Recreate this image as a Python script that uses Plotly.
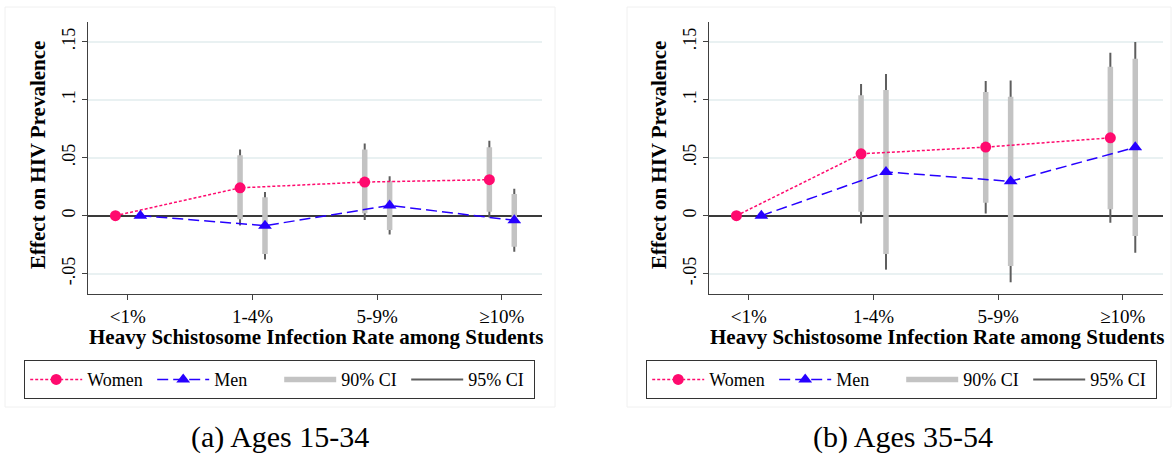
import plotly.graph_objects as go

categories = ["<1%", "1-4%", "5-9%", "≥10%"]
cat_pos = [1, 2, 3, 4]
offset_women = -0.1
offset_men = 0.1

# Panel (a) Ages 15-34
a_women = [0.0, 0.024, 0.029, 0.031]
a_women_lo90 = [None, -0.003, 0.002, 0.0035]
a_women_hi90 = [None, 0.052, 0.057, 0.059]
a_women_lo95 = [None, -0.0085, -0.0037, -0.0015]
a_women_hi95 = [None, 0.057, 0.0623, 0.0645]
a_men = [0.0, -0.0086, 0.0088, -0.004]
a_men_lo90 = [None, -0.033, -0.0123, -0.0267]
a_men_hi90 = [None, 0.0159, 0.0299, 0.0187]
a_men_lo95 = [None, -0.0377, -0.0162, -0.031]
a_men_hi95 = [None, 0.0205, 0.034, 0.0232]

# Panel (b) Ages 35-54
b_women = [0.0, 0.0533, 0.0591, 0.0671]
b_women_lo90 = [None, 0.0034, 0.0112, 0.0055]
b_women_hi90 = [None, 0.1038, 0.1066, 0.1284]
b_women_lo95 = [None, -0.0068, 0.0019, -0.006]
b_women_hi95 = [None, 0.1134, 0.1161, 0.1404]
b_men = [0.0, 0.0377, 0.0296, 0.0589]
b_men_lo90 = [None, -0.033, -0.0434, -0.0175]
b_men_hi90 = [None, 0.1084, 0.1026, 0.1353]
b_men_lo95 = [None, -0.0465, -0.0574, -0.032]
b_men_hi95 = [None, 0.1221, 0.1166, 0.1498]

ytick_vals = [-0.05, 0, 0.05, 0.1, 0.15]
ytick_text = ["-.05", "0", ".05", ".1", ".15"]

captions = ["(a) Ages 15-34", "(b) Ages 35-54"]
x_title = "Heavy Schistosome Infection Rate among Students"
y_title = "Effect on HIV Prevalence"

PINK = "#ff0a6e"
BLUE = "#2600ff"
CI90 = "#c3c3c3"
CI95 = "#5e5e5e"
FONT = "Liberation Serif"

W, H = 1172, 458


def segs(lo_w, hi_w, lo_m, hi_m):
    xs, ys = [], []
    for i, p in enumerate(cat_pos):
        for off, lo, hi in ((offset_women, lo_w, hi_w), (offset_men, lo_m, hi_m)):
            if lo[i] is None:
                continue
            xs += [p + off, p + off, None]
            ys += [lo[i], hi[i], None]
    return xs, ys


fig = go.Figure()

panels = [
    dict(w=a_women, wl90=a_women_lo90, wh90=a_women_hi90, wl95=a_women_lo95, wh95=a_women_hi95,
         m=a_men, ml90=a_men_lo90, mh90=a_men_hi90, ml95=a_men_lo95, mh95=a_men_hi95),
    dict(w=b_women, wl90=b_women_lo90, wh90=b_women_hi90, wl95=b_women_lo95, wh95=b_women_hi95,
         m=b_men, ml90=b_men_lo90, mh90=b_men_hi90, ml95=b_men_lo95, mh95=b_men_hi95),
]

for k, P in enumerate(panels):
    xa = "x" if k == 0 else "x2"
    ya = "y" if k == 0 else "y2"
    lg = "legend" if k == 0 else "legend2"
    x95, y95 = segs(P["wl95"], P["wh95"], P["ml95"], P["mh95"])
    x90, y90 = segs(P["wl90"], P["wh90"], P["ml90"], P["mh90"])
    fig.add_trace(go.Scatter(x=x95, y=y95, mode="lines", line=dict(color=CI95, width=2),
                             name="95% CI", legend=lg, legendrank=4, xaxis=xa, yaxis=ya,
                             hoverinfo="skip"))
    fig.add_trace(go.Scatter(x=x90, y=y90, mode="lines", line=dict(color=CI90, width=5.5),
                             name="90% CI", legend=lg, legendrank=3, xaxis=xa, yaxis=ya,
                             hoverinfo="skip"))
    fig.add_trace(go.Scatter(x=[p + offset_women for p in cat_pos], y=P["w"], mode="lines+markers",
                             line=dict(color=PINK, width=1.5, dash="3px,2px"),
                             marker=dict(symbol="circle", size=11, color=PINK),
                             name="Women", legend=lg, legendrank=1, xaxis=xa, yaxis=ya))
    fig.add_trace(go.Scatter(x=[p + offset_men for p in cat_pos], y=P["m"], mode="lines+markers",
                             line=dict(color=BLUE, width=1.5, dash="11px,5px"),
                             marker=dict(symbol="triangle-up", size=12, color=BLUE),
                             name="Men", legend=lg, legendrank=2, xaxis=xa, yaxis=ya))

# geometry (pixels)
left_plot = (88, 541.7)
right_plot = (709, 1162.7)
plot_top, plot_bot = 21.7, 294.0

axis_common = dict(
    showline=True, linecolor="#404040", linewidth=1.3,
    ticks="outside", ticklen=5, tickwidth=1.2, tickcolor="#404040",
)
xcommon = dict(axis_common, range=[0.68, 4.32], tickmode="array", tickvals=cat_pos,
               ticktext=categories, showgrid=False, zeroline=False, mirror=False,
               tickfont=dict(family=FONT, size=19, color="#000"))
ycommon = dict(axis_common, range=[-0.0675, 0.1672], tickmode="array", tickvals=ytick_vals,
               ticktext=ytick_text, tickangle=-90, showgrid=True, gridcolor="#e9f1f2",
               gridwidth=1.5, zeroline=True, zerolinecolor="#3a3a3a", zerolinewidth=1.5,
               tickfont=dict(family=FONT, size=18, color="#000"))

ydom = [1 - plot_bot / H, 1 - plot_top / H]
fig.update_layout(
    xaxis=dict(xcommon, domain=[left_plot[0] / W, left_plot[1] / W], anchor="y"),
    yaxis=dict(ycommon, domain=ydom, anchor="x"),
    xaxis2=dict(xcommon, domain=[right_plot[0] / W, right_plot[1] / W], anchor="y2"),
    yaxis2=dict(ycommon, domain=ydom, anchor="x2"),
)

leg_common = dict(orientation="h", xanchor="left", yanchor="top", y=1 - 360 / H,
                  bgcolor="white", bordercolor="#333", borderwidth=1.2,
                  font=dict(family=FONT, size=18, color="#000"),
                  entrywidth=60, entrywidthmode="pixels", itemwidth=52,
                  traceorder="normal", tracegroupgap=0)
fig.update_layout(
    legend=dict(leg_common, x=24 / W),
    legend2=dict(leg_common, x=(24 + 622) / W),
)

shapes = []
for (x0, x1) in [(5, 555), (627, 1171)]:
    shapes.append(dict(type="rect", xref="paper", yref="paper", x0=x0 / W, x1=x1 / W,
                       y0=1 - 407 / H, y1=1 - 7 / H, line=dict(color="#f0f0f0", width=1),
                       fillcolor="rgba(0,0,0,0)", layer="below"))

annotations = []
for k, (lp, cap_cx) in enumerate([(left_plot, 280), (right_plot, 903)]):
    annotations.append(dict(text="<b>" + x_title + "</b>", xref="paper", yref="paper",
                            x=(lp[0] + lp[1]) / 2 / W + 1.5 / W, y=1 - 336.7 / H,
                            xanchor="center", yanchor="middle", showarrow=False,
                            font=dict(family=FONT, size=21, color="#000")))
    annotations.append(dict(text="<b>" + y_title + "</b>", xref="paper", yref="paper",
                            x=(lp[0] - 50) / W, y=1 - 155 / H, textangle=-90,
                            xanchor="center", yanchor="middle", showarrow=False,
                            font=dict(family=FONT, size=21, color="#000")))
    annotations.append(dict(text=captions[k], xref="paper", yref="paper",
                            x=cap_cx / W, y=1 - 437 / H, xanchor="center", yanchor="middle",
                            showarrow=False, font=dict(family=FONT, size=30, color="#000")))

fig.update_layout(
    width=W, height=H, margin=dict(l=0, r=0, t=0, b=0),
    paper_bgcolor="white", plot_bgcolor="white",
    shapes=shapes, annotations=annotations, showlegend=True,
)

fig.write_html("out.html")
